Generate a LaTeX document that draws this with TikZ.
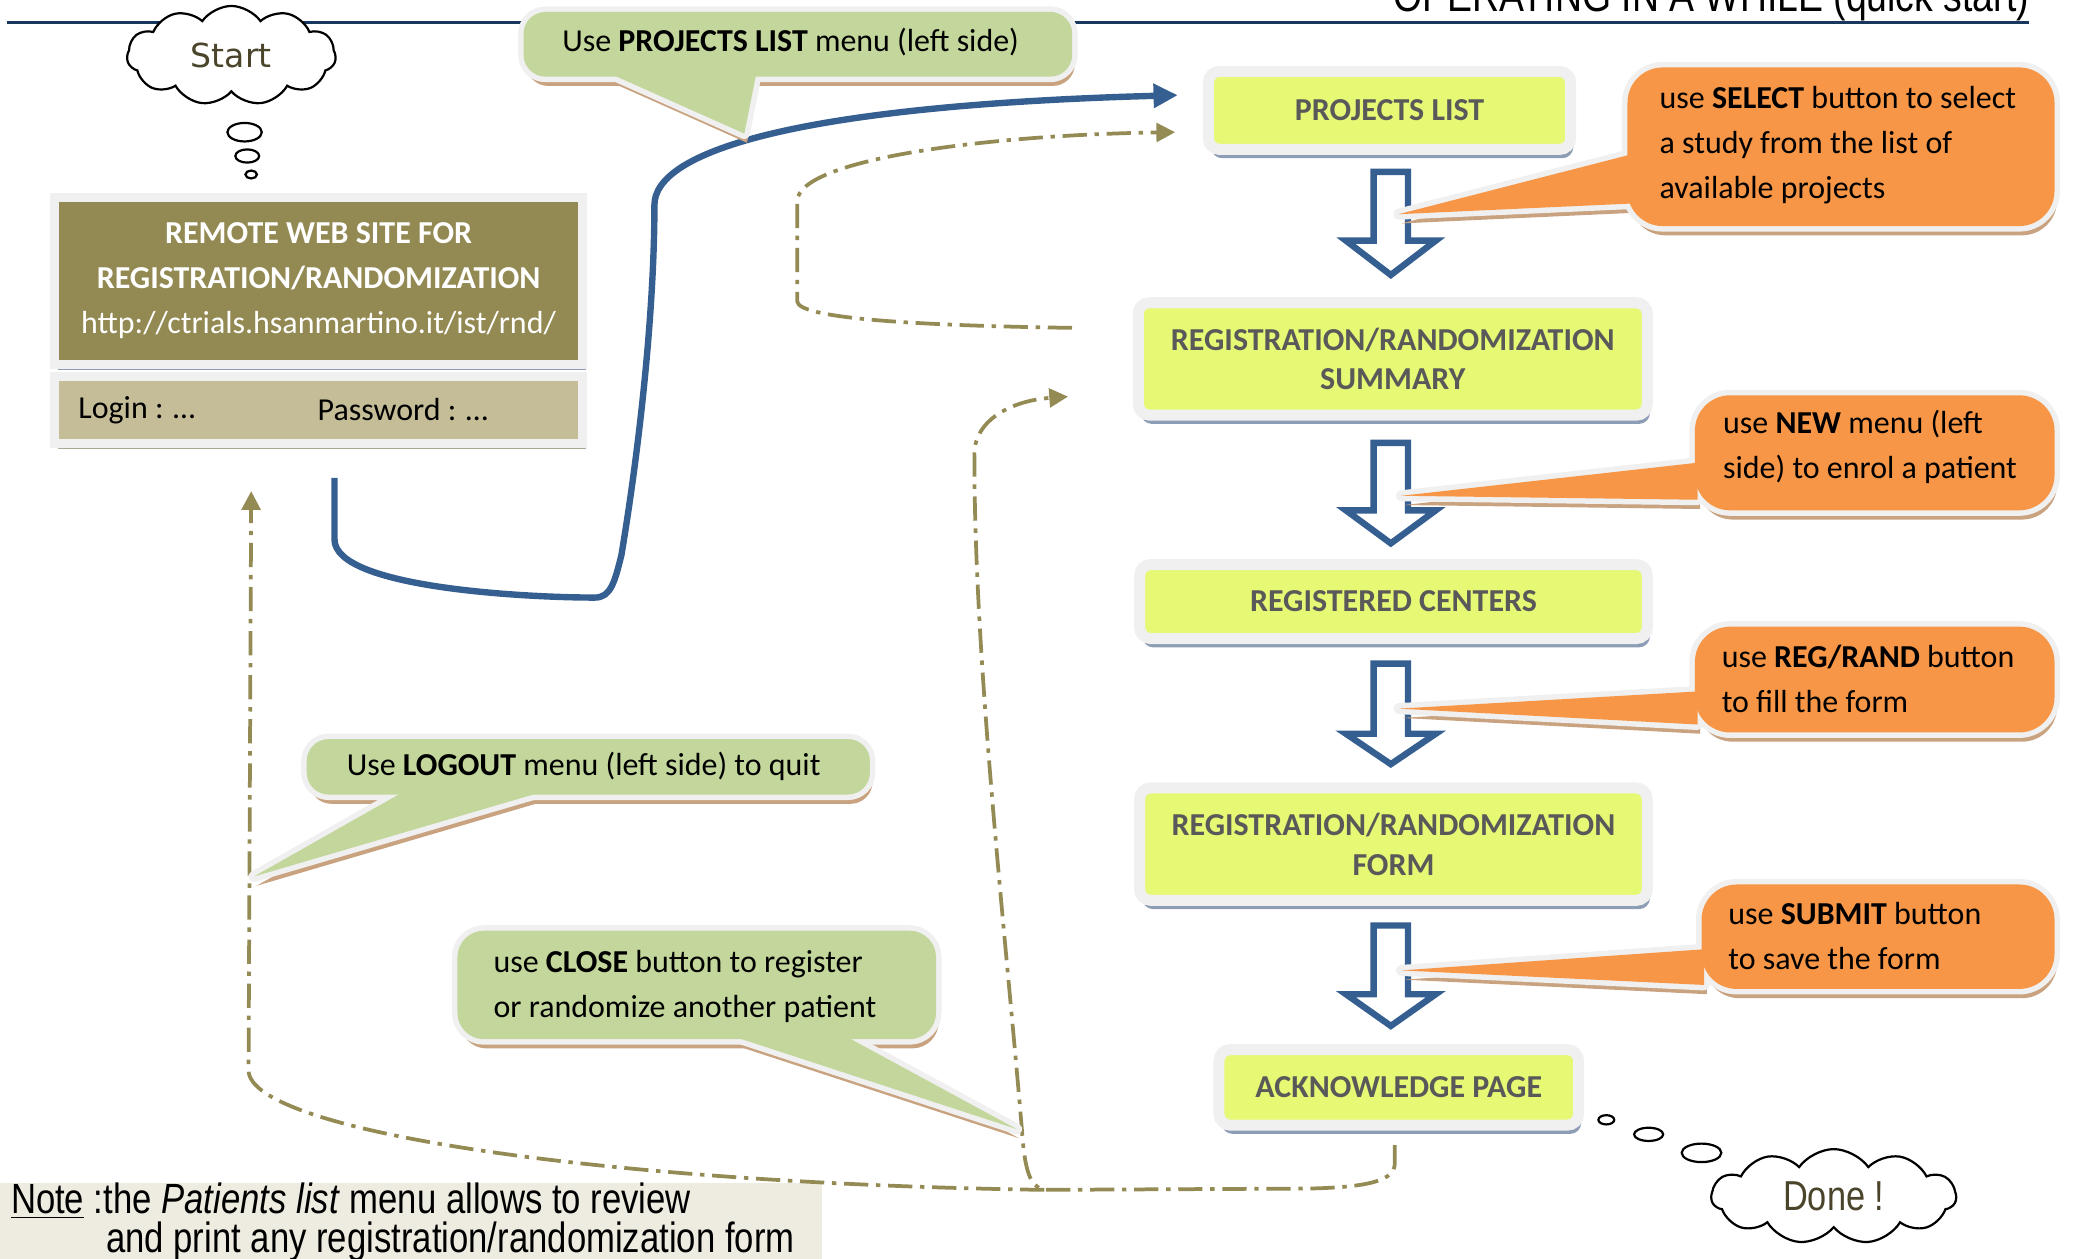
\documentclass[tikz,border=0pt]{standalone}
\usepackage{fontspec}
\setmainfont{Carlito}
\newfontfamily\narrowfont[FakeStretch=0.82]{Liberation Sans}
\newfontfamily\startfont{DejaVu Sans}
\usetikzlibrary{arrows.meta,shapes.symbols,shadows}
\definecolor{navy}{HTML}{17375E}
\definecolor{bluel}{HTML}{365F91}
\definecolor{olive}{HTML}{948A54}
\definecolor{olivefill}{HTML}{938953}
\definecolor{tanfill}{HTML}{C4BD97}
\definecolor{greenc}{HTML}{C3D69B}
\definecolor{orangec}{HTML}{F79646}
\definecolor{yellowb}{HTML}{E6F874}
\definecolor{notebg}{HTML}{EEECE1}
\definecolor{rim}{HTML}{F0F0F0}
\definecolor{tanshadow}{HTML}{C9A27F}
\definecolor{blueshadow}{HTML}{8D9DB5}
\definecolor{greyshadow}{HTML}{A3AB92}
\definecolor{boxtext}{HTML}{595959}
\definecolor{cloudtext}{HTML}{4A452A}
% callout: #1 fill, #2 radius, #3 corner, #4 corner, #5 base, #6 tip, #7 base
\newcommand\mycallout[7]{%
  \begin{scope}[shift={(2,7)}]
    \fill[tanshadow, rounded corners=#2] #3 rectangle #4;
    \fill[tanshadow] #5 -- #6 -- #7 -- cycle;
  \end{scope}
  \draw[rim, line width=5pt, rounded corners=#2] #3 rectangle #4;
  \draw[rim, line width=5pt, line join=round] #5 -- #6 -- #7 -- cycle;
  \fill[#1, rounded corners=#2] #3 rectangle #4;
  \fill[#1] #5 -- #6 -- #7 -- cycle;
}
% hollow block arrow: #1 x centre, #2 top, #3 head base, #4 tip
\newcommand\hollowarrow[4]{%
  \draw[bluel, line width=2.9pt, fill=white, line join=miter]
    (#1-13,#2) -- (#1+13,#2) -- (#1+13,#3) -- (#1+34,#3) -- (#1,#4)
    -- (#1-34,#3) -- (#1-13,#3) -- cycle;}
\begin{document}
\begin{tikzpicture}[x=0.6pt,y=-0.6pt,
  flowbox/.style={draw=rim, line width=5pt, fill=yellowb, rounded corners=5pt,
    text=boxtext, font=\fontsize{14.5pt}{18pt}\selectfont\bfseries,
    align=center, inner sep=0pt,
    drop shadow={shadow xshift=1.2pt, shadow yshift=-4pt, fill=blueshadow, opacity=1}},
  dashdot/.style={olive, line width=1.7pt, dash pattern=on 11pt off 3.5pt on 2pt off 3.5pt},
  calltext/.style={anchor=west, align=left, inner sep=0pt,
    font=\fontsize{14.5pt}{20.4pt}\selectfont},
  oarrow/.style={-{Triangle[length=8.5pt,width=8.5pt]}},
  thought/.style={draw=black, fill=white, line width=1pt}
]
\useasboundingbox (0,0) rectangle (1568,952);

% top rule and title
\coordinate (r1) at (5,17);
\coordinate (r2) at (1535,17);
\draw[navy, line width=1.3pt] (r1) -- (r2);
\node[anchor=base east, inner sep=0pt, font=\narrowfont\fontsize{20.7pt}{22pt}\selectfont] (title) at (1535,9) {OPERATING IN A WHILE (quick start)};

% note
\fill[notebg] (0,895) rectangle (622,952);
\node[anchor=base west, inner sep=0pt, font=\narrowfont\fontsize{19.2pt}{22pt}\selectfont] (note1) at (8,918) {\underline{Note} :the \textit{Patients list} menu allows to review};
\node[anchor=base west, inner sep=0pt, font=\narrowfont\fontsize{19.2pt}{22pt}\selectfont] (note2) at (80,947) {and print any registration/randomization form};

% remote site boxes
\node[draw=rim, line width=4.2pt, fill=olivefill, minimum width=239.4pt, minimum height=75.6pt,
  text=white, align=center, inner sep=0pt, font=\fontsize{14.5pt}{20.4pt}\selectfont,
  drop shadow={shadow xshift=1.5pt, shadow yshift=-2.5pt, fill=blueshadow, opacity=1}]
  (remote) at (241,212.5) {\textbf{REMOTE WEB SITE FOR}\\\textbf{REGISTRATION/RANDOMIZATION}\\http://ctrials.hsanmartino.it/ist/rnd/};
\node[draw=rim, line width=4.2pt, fill=tanfill, minimum width=239.4pt, minimum height=30.6pt,
  inner sep=0pt,
  drop shadow={shadow xshift=1.5pt, shadow yshift=-2.5pt, fill=greyshadow, opacity=1}]
  (login) at (241,310) {};
\node[anchor=west, inner sep=0pt, font=\fontsize{14.5pt}{18pt}\selectfont] (lg) at (59,310) {Login : …};
\node[anchor=west, inner sep=0pt, font=\fontsize{14.5pt}{18pt}\selectfont] (pw) at (240,310) {Password : …};

% flow boxes
\node[flowbox, minimum width=164.4pt, minimum height=35.4pt] (plist) at (1051,83.5) {PROJECTS LIST};
\node[flowbox, minimum width=231pt, minimum height=51pt] (summary) at (1053.5,271.5) {REGISTRATION/RANDOMIZATION\\SUMMARY};
\node[flowbox, minimum width=230.4pt, minimum height=33.6pt] (centers) at (1054,455) {REGISTERED CENTERS};
\node[flowbox, minimum width=230.4pt, minimum height=51pt] (form) at (1054,638.5) {REGISTRATION/RANDOMIZATION\\FORM};
\node[flowbox, minimum width=163.2pt, minimum height=34.2pt] (ack) at (1058,822.5) {ACKNOWLEDGE PAGE};

% hollow arrows between boxes
\hollowarrow{1052}{130}{182}{208}
\hollowarrow{1052}{335}{386}{411}
\hollowarrow{1052}{502}{555}{578}
\hollowarrow{1052}{700}{752}{776}

% dash-dot connectors
\draw[dashdot, oarrow] ([xshift=-27.6pt,yshift=14.1pt]summary.west) .. controls (680,246) and (604,240) .. (603,228)
  -- (603,152) .. controls (604,120) and (750,102) .. ([xshift=-12.6pt,yshift=-9.9pt]plist.west);
\coordinate (jn) at (790,900);
\draw[dashdot, oarrow] ([xshift=-1.8pt,yshift=-6.6pt]ack.south) -- (1055,880)
  .. controls (1055,893) and (1035,898) .. (990,899) -- (jn)
  .. controls (779,898) and (775,885) .. (773,855)
  .. controls (760,700) and (737,500) .. (737,345)
  .. controls (736,318) and (765,303) .. ([xshift=-29.4pt,yshift=-17.1pt]summary.west);
\draw[dashdot, oarrow] (jn) .. controls (450,895) and (190,855) .. (188,810)
  -- ([xshift=-30.6pt,yshift=-19.5pt]login.south);

% blue connector
\draw[bluel, line width=2.9pt, -{Triangle[length=11pt,width=10.5pt]}]
  ([xshift=7.2pt,yshift=-13.5pt]login.south) -- (253,408)
  .. controls (253,445) and (400,452) .. (450,452)
  .. controls (462,452) and (465,440) .. (470,420)
  .. controls (485,330) and (495,230) .. (495,155)
  .. controls (495,115) and (600,80) .. ([xshift=-11.4pt,yshift=6.9pt]plist.west);

% green callouts
\mycallout{greenc}{10pt}{(396,9)}{(811,58)}{(462,56)}{(563,101)}{(572,56)}
\node[calltext] (c1) at (425,32) {Use \textbf{PROJECTS LIST} menu (left side)};
\mycallout{greenc}{10pt}{(232,559)}{(658,601)}{(305,599)}{(192,663)}{(410,599)}
\node[calltext] (c2) at (262,580) {Use \textbf{LOGOUT} menu (left side) to quit};
\mycallout{greenc}{12pt}{(346,704)}{(708,786)}{(555,784)}{(769,854)}{(640,784)}
\node[calltext] (c3) at (373,746) {use \textbf{CLOSE} button to register\\or randomize another patient};

% orange callouts
\mycallout{orangec}{16pt}{(1231,51)}{(1554,171)}{(1233,117)}{(1058,162)}{(1233,154)}
\node[calltext] (o1) at (1255,110) {use \textbf{SELECT} button to select\\a study from the list of\\available projects};
\mycallout{orangec}{16pt}{(1282,299)}{(1554,386)}{(1284,350)}{(1060,375)}{(1284,378)}
\node[calltext] (o2) at (1303,338) {use \textbf{NEW} menu (left\\side) to enrol a patient};
\mycallout{orangec}{16pt}{(1282,474)}{(1554,554)}{(1284,523)}{(1058,536)}{(1284,548)}
\node[calltext] (o3) at (1302,513.5) {use \textbf{REG/RAND} button\\to fill the form};
\mycallout{orangec}{16pt}{(1287,669)}{(1554,748)}{(1289,718)}{(1060,734)}{(1289,745)}
\node[calltext] (o4) at (1307,708) {use \textbf{SUBMIT} button\\to save the form};

% clouds
\node[cloud, cloud puffs=11, cloud puff arc=110, aspect=2, thought, minimum width=94.8pt, minimum height=45pt,
  text=cloudtext, font=\startfont\fontsize{15pt}{18pt}\selectfont] (start) at (175,42) {Start};
\draw[thought] (185,100) ellipse [x radius=7.8pt, y radius=4.2pt];
\draw[thought] (187,118) ellipse [x radius=5.4pt, y radius=3pt];
\draw[thought] (190,132) ellipse [x radius=2.6pt, y radius=1.8pt];

\node[cloud, cloud puffs=11, cloud puff arc=110, aspect=2.5, thought, minimum width=111pt, minimum height=43pt,
  text=cloudtext, font=\narrowfont\fontsize{19pt}{20pt}\selectfont] (done) at (1387,905) {Done !};
\draw[thought] (1215,847) ellipse [x radius=3.6pt, y radius=2.1pt];
\draw[thought] (1247,858) ellipse [x radius=6.6pt, y radius=3pt];
\draw[thought] (1287,872) ellipse [x radius=9pt, y radius=4.2pt];
\end{tikzpicture}
\end{document}
